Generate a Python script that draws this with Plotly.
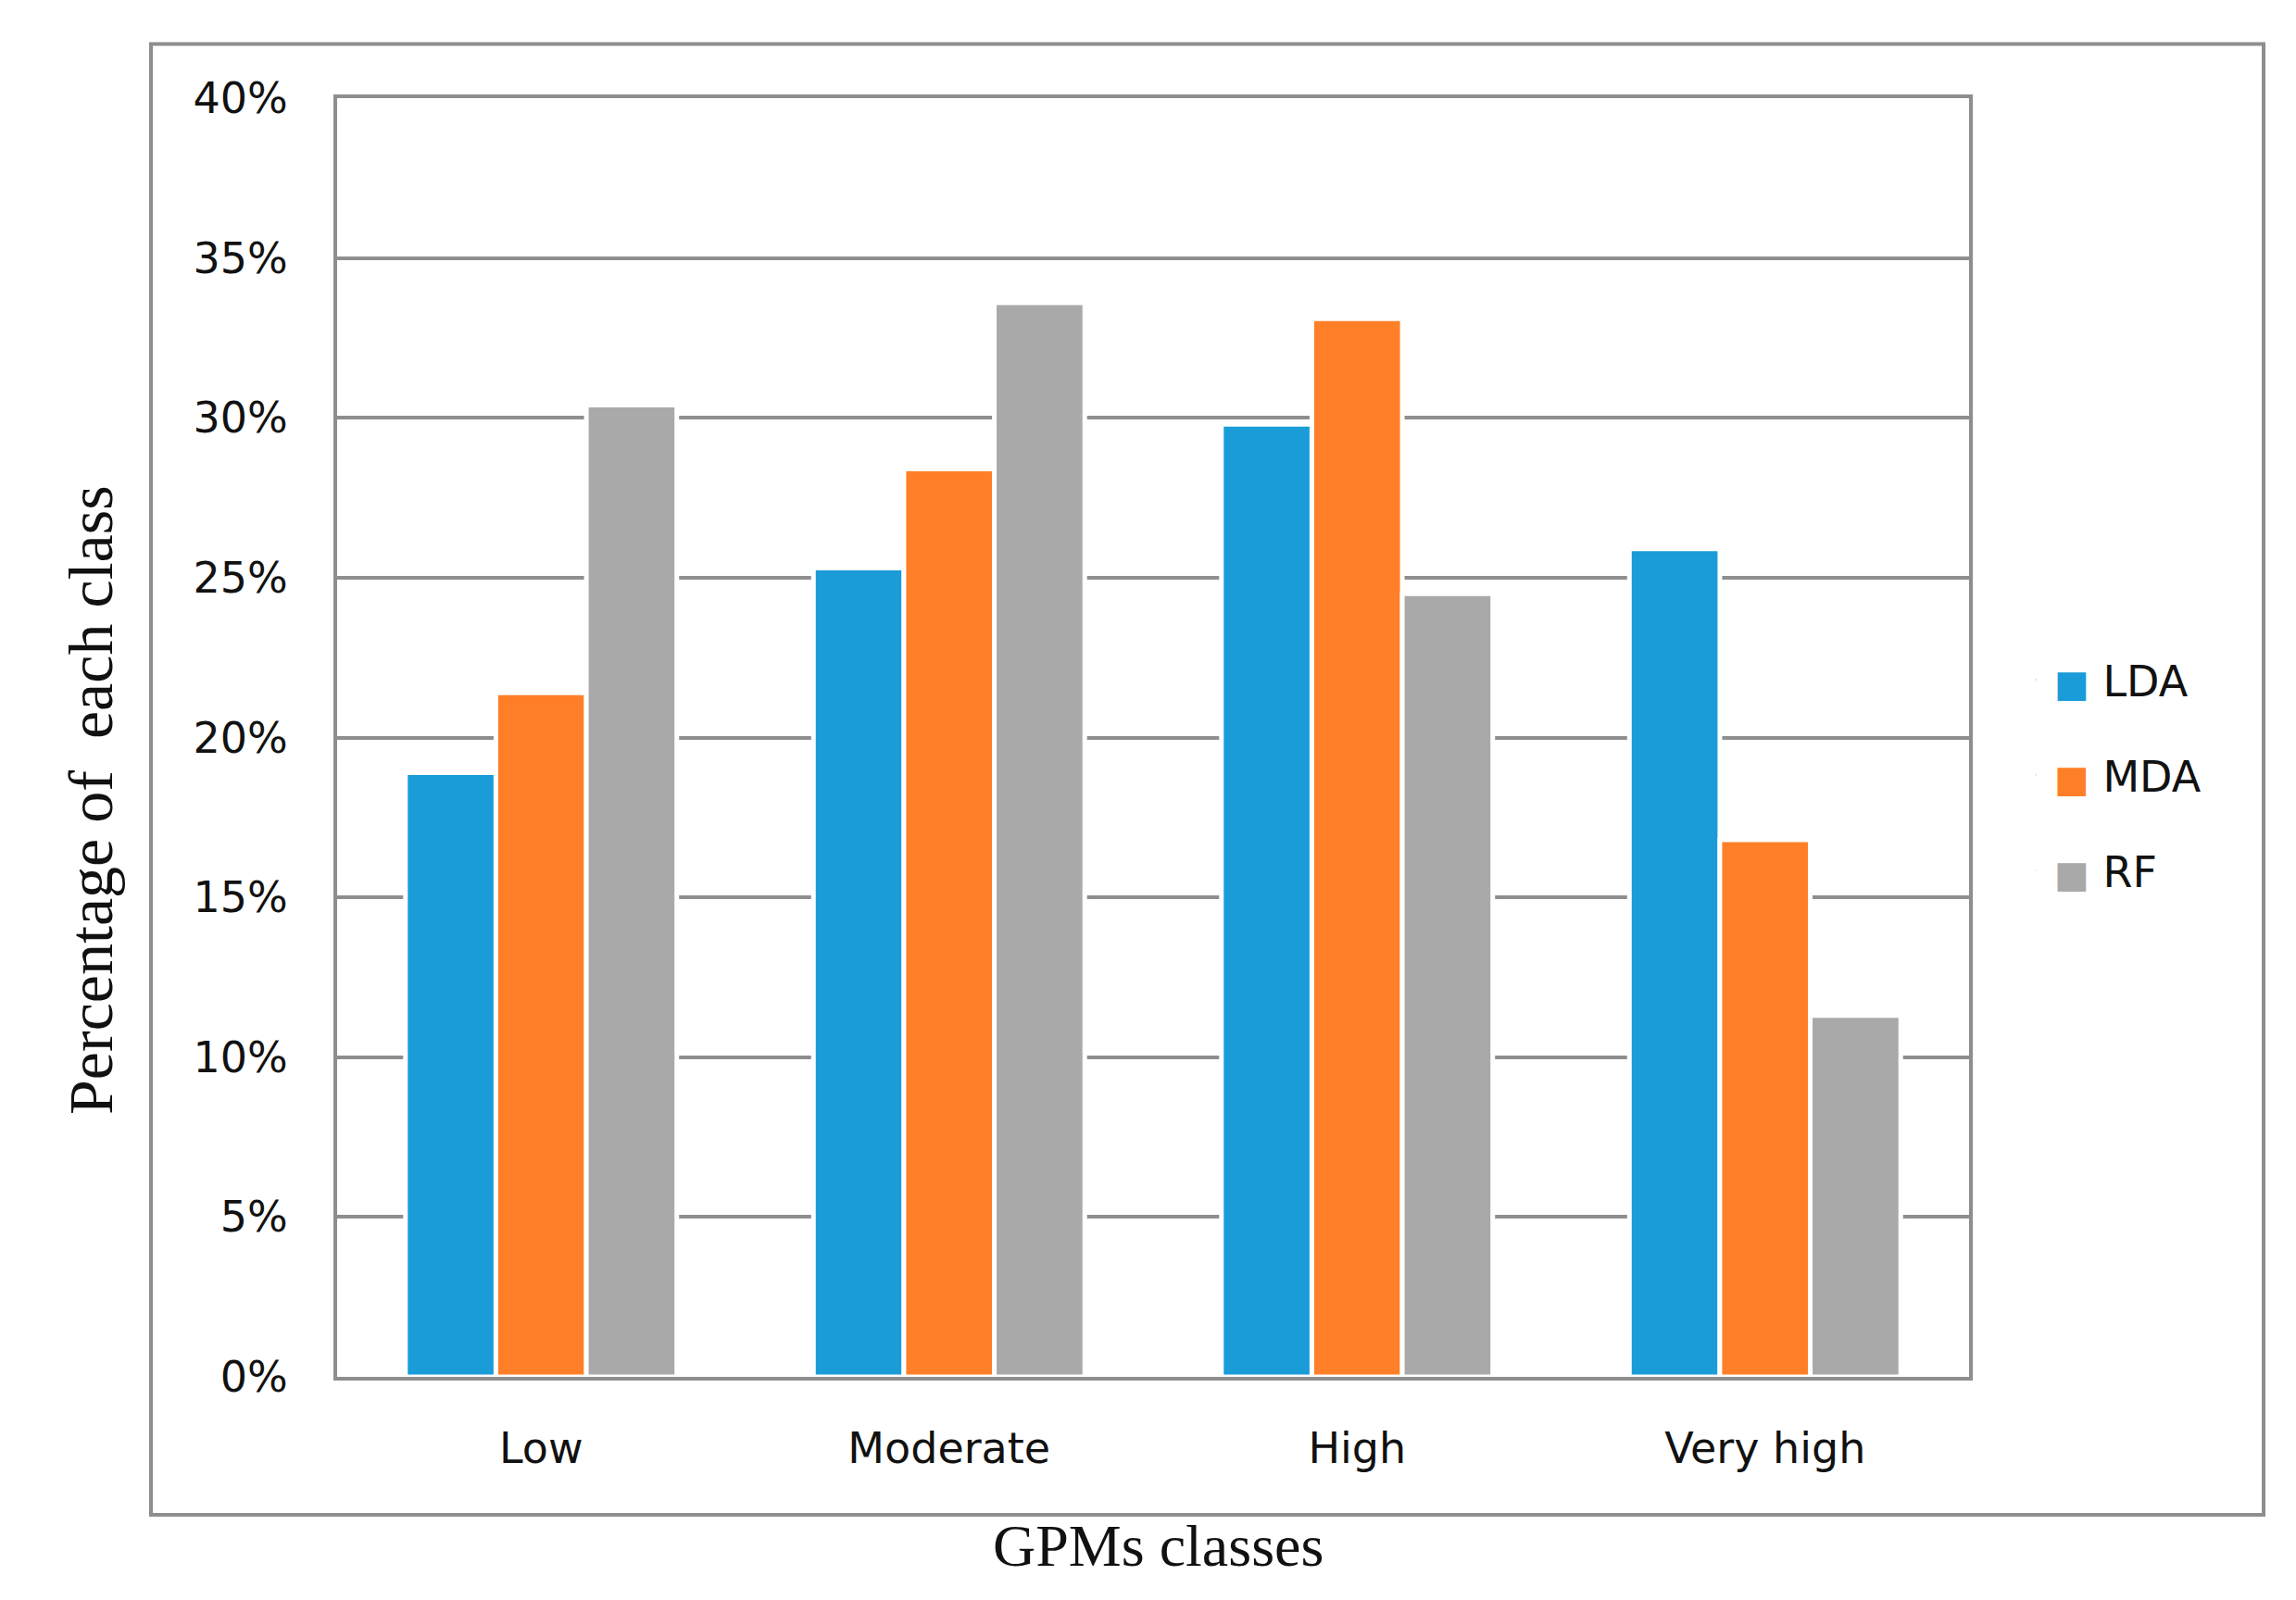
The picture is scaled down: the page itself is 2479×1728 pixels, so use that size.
import plotly.graph_objects as go

categories = ["Low", "Moderate", "High", "Very high"]
series_names = ["LDA", "MDA", "RF"]
lda_values = [18.9, 25.3, 29.8, 25.9]
mda_values = [21.4, 28.4, 33.1, 16.8]
rf_values = [30.4, 33.6, 24.5, 11.3]
y_tick_values = [0, 5, 10, 15, 20, 25, 30, 35, 40]
y_tick_labels = ["0%", "5%", "10%", "15%", "20%", "25%", "30%", "35%", "40%"]
x_title = "GPMs classes"
y_title = "Percentage of  each class"

colors = ["#1A9CD8", "#FE7F27", "#A9A9A9"]
grid_color = "#8E8E8E"
tick_font = dict(family="DejaVu Sans", size=46, color="#111111")
title_font_family = "Liberation Serif"

# page body has an 8px margin: shrink figure and work in page coordinates minus 8
OFF = 8
W, H = 2479 - 2 * OFF, 1728 - 2 * OFF
L = 364 - OFF
T = 106 - OFF
PLOT_R = 2126 - OFF
PLOT_B = 1487 - OFF
R = W - PLOT_R
B = H - PLOT_B
PW = PLOT_R - L
PH = PLOT_B - T


def px_x(page_x):
    return (page_x - OFF - L) / PW


def px_y(page_y):
    return (PLOT_B - (page_y - OFF)) / PH


fig = go.Figure()
for name, vals, col in zip(series_names, [lda_values, mda_values, rf_values], colors):
    fig.add_trace(go.Bar(
        x=categories, y=vals, name=name, showlegend=False,
        marker=dict(color=col, line=dict(color="white", width=5)),
    ))

legend_page_y = [734, 837, 940]
legend_names = ["legend", "legend2", "legend3"]
for name, col, ln in zip(series_names, colors, legend_names):
    fig.add_trace(go.Scatter(
        x=[None], y=[None], mode="markers", legend=ln,
        name=f"<span style='color:{col};font-size:40px'>■</span> {name}",
        marker=dict(symbol="square", size=1, color=col, opacity=0),
    ))

layout_legends = {}
for ln, py in zip(legend_names, legend_page_y):
    layout_legends[ln] = dict(
        x=px_x(2178), y=px_y(py), xanchor="left", yanchor="middle",
        font=tick_font, itemwidth=30, bgcolor="rgba(0,0,0,0)", borderwidth=0,
    )

fig.update_layout(
    width=W, height=H,
    margin=dict(l=L, r=R, t=T, b=B, autoexpand=False),
    paper_bgcolor="white", plot_bgcolor="white",
    barmode="group", bargap=0.335, bargroupgap=0.0,
    **layout_legends,
    xaxis=dict(
        showline=True, linecolor=grid_color, linewidth=4, mirror=True,
        showgrid=False, ticks="", tickfont=tick_font, ticklabelstandoff=34,
    ),
    yaxis=dict(
        range=[0, 40], tickvals=y_tick_values, ticktext=y_tick_labels,
        showline=True, linecolor=grid_color, linewidth=4, mirror=True,
        showgrid=True, gridcolor=grid_color, gridwidth=4,
        zeroline=False, ticks="", tickfont=tick_font, ticklabelstandoff=40,
    ),
    annotations=[
        dict(text=x_title, xref="paper", yref="paper", x=px_x(1250), y=px_y(1669),
             xanchor="center", yanchor="middle", showarrow=False,
             font=dict(family=title_font_family, size=64, color="#111111")),
        dict(text=y_title, xref="paper", yref="paper", x=px_x(98), y=px_y(864),
             xanchor="center", yanchor="middle", textangle=-90, showarrow=False,
             font=dict(family=title_font_family, size=68, color="#111111")),
    ],
    shapes=[
        dict(type="rect", xref="paper", yref="paper",
             x0=px_x(163), x1=px_x(2444), y0=px_y(1636), y1=px_y(47.5),
             line=dict(color=grid_color, width=4), fillcolor="rgba(0,0,0,0)",
             layer="below"),
    ],
)

fig.write_html("out.html")
